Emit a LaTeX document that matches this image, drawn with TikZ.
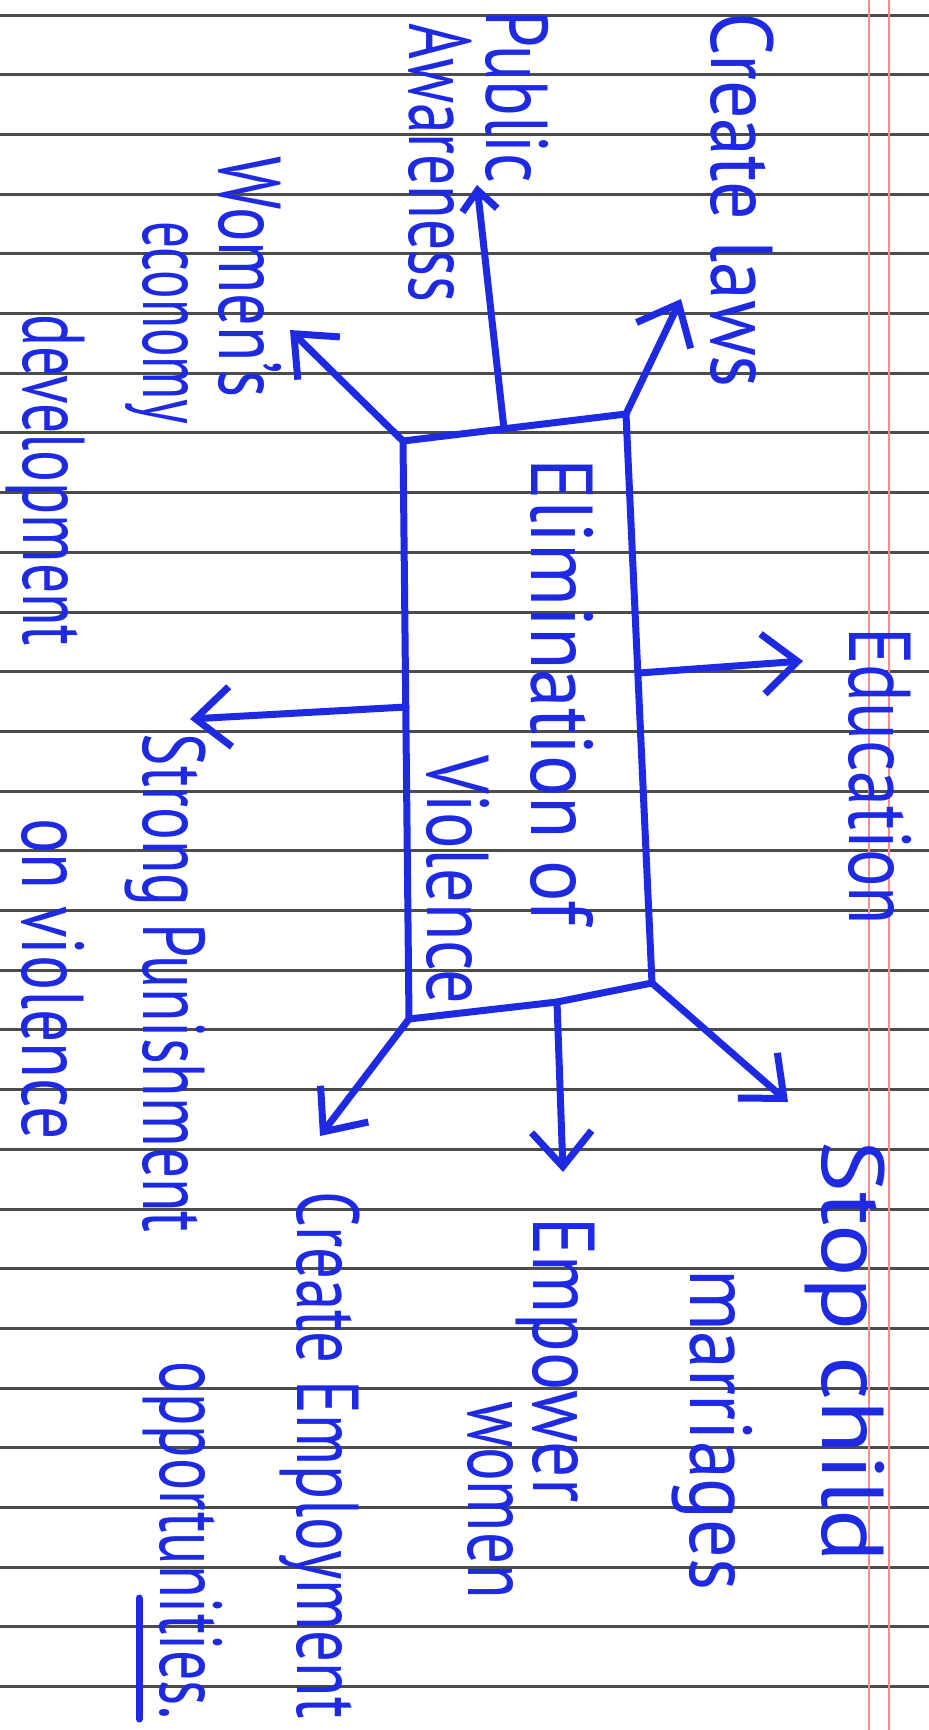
\documentclass[tikz,border=0pt]{standalone}
\usepackage{fontspec}
\setmainfont{PT Sans}
\usepackage{tikz}
\usetikzlibrary{arrows.meta}
\newcommand{\hw}[2]{\resizebox{#1}{\height}{#2}}

\begin{document}
\begin{tikzpicture}[x=0.1mm, y=-0.1mm,
		hand/.style={text=ink, rotate=-90, inner sep=0pt, font=\fontsize{25}{30}\selectfont},
		barb/.style={-{Straight Barb[length=3.5mm, width=6mm]}, draw=ink, line width={0.7mm}, line cap=round, line join=round},
		rule/.style={draw=black!70, line width={0.3mm}}]
				\definecolor{ink}{RGB}{30, 42, 226}
				\fill[white] (0, 0) rectangle (929, 1730);
				\useasboundingbox (0, 0) rectangle (929, 1730);
				% ruled paper
				\foreach \k in {0,...,28}
					\draw[rule] (0, {15+59.7*\k}) -- (929, {15+59.7*\k});
				\draw[red!45, line width={0.15mm}] (869, 0) -- (869, 1730);
				\draw[red!45, line width={0.15mm}] (889, 0) -- (889, 1730);
				% centre box
				\coordinate (bTL) at (403, 441);
				\coordinate (bTR) at (626, 414);
				\coordinate (bBR) at (652, 983);
				\coordinate (bBM) at (557, 1002);
				\coordinate (bBL) at (409, 1019);
				\coordinate (bTop) at (504, 429);
				\coordinate (bRight) at (639, 673);
				\coordinate (bLeft) at (406, 707);
				\draw[ink, line width={0.7mm}, line join=round] (bTL) -- (bTR) -- (bBR) -- (bBM) -- (bBL) -- cycle;
				\node[hand] (elim) at (562, 692) {\hw{46.7mm}{Elimination of}};
				\node[hand] (viol) at (458, 880) {\hw{24.9mm}{Violence}};
				% labels
				\node[hand] (laws) at (742, 200) {\hw{37.6mm}{Create laws}};
				\node[hand] (public) at (517, 97) {\hw{17.3mm}{Public}};
				\node[hand] (aware) at (440, 163) {\hw{27.9mm}{Awareness}};
				\node[hand] (womens) at (250, 277) {\hw{24.1mm}{Women's}};
				\node[hand] (econ) at (157, 323) {\hw{20.3mm}{economy}};
				\node[hand] (devel) at (45, 480) {\hw{33.2mm}{development}};
				\node[hand] (educ) at (880, 776) {\hw{29.8mm}{Education}};
				\node[hand] (strong) at (165, 983) {\hw{49.9mm}{Strong Punishment}};
				\node[hand] (onviol) at (53, 979) {\hw{32.2mm}{on violence}};
				\node[hand] (stop) at (845, 1351) {\hw{42.2mm}{Stop child}};
				\node[hand] (marr) at (712, 1430) {\hw{32.1mm}{marriages}};
				\node[hand] (empower) at (555, 1360) {\hw{28.5mm}{Empower}};
				\node[hand] (women) at (490, 1500) {\hw{19.7mm}{women}};
				\node[hand] (jobs) at (320, 1455) {\hw{52.7mm}{Create Employment}};
				\node[hand] (opport) at (183, 1540) {\hw{35.8mm}{opportunities.}};
				% arrow ends
				\coordinate (lawsTip) at (681, 299);
				\coordinate (pubTip) at (477, 185);
				\coordinate (womTip) at (290, 330);
				\coordinate (eduTip) at (803, 661);
				\coordinate (punTip) at (190, 719);
				\coordinate (stopTip) at (788, 1102);
				\coordinate (empTip) at (563, 1172);
				\coordinate (jobTip) at (320, 1136);
				\draw[barb] (bTR) to (lawsTip);
				\draw[barb, -{Straight Barb[length=2mm, width=3.5mm]}] (bTop) to (pubTip);
				\draw[barb] (bTL) to (womTip);
				\draw[barb] (bRight) to (eduTip);
				\draw[barb] (bLeft) to (punTip);
				\draw[barb] (bBR) to (stopTip);
				\draw[barb] (bBM) to (empTip);
				\draw[barb] (bBL) to (jobTip);
				\draw[ink, line width={0.7mm}, line cap=round] (139, 1598) -- (139, 1719);
			\end{tikzpicture}
\end{document}
